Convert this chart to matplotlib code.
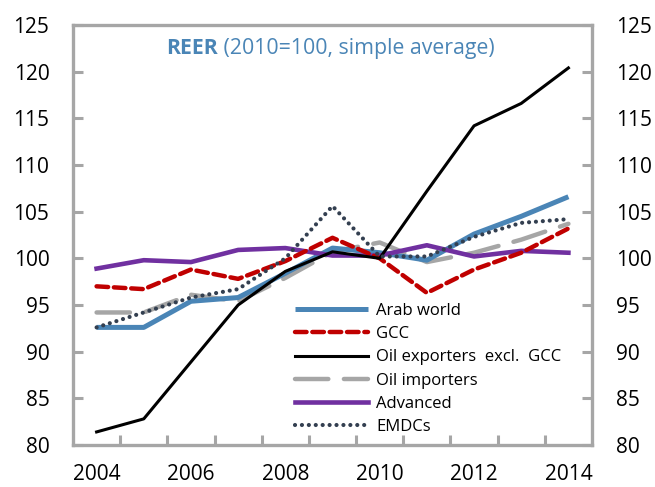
import matplotlib
matplotlib.use("Agg")
import matplotlib.pyplot as plt

years = [2004, 2005, 2006, 2007, 2008, 2009, 2010, 2011, 2012, 2013, 2014]
arab_world = [92.6, 92.6, 95.4, 95.8, 98.4, 101.1, 100.6, 99.8, 102.6, 104.5, 106.6]
gcc = [97.0, 96.7, 98.8, 97.8, 99.7, 102.2, 100.0, 96.3, 98.8, 100.6, 103.2]
oil_exp = [81.4, 82.8, 88.9, 95.0, 98.6, 100.7, 100.0, 107.2, 114.2, 116.6, 120.4]
oil_imp = [94.2, 94.2, 96.1, 95.4, 97.9, 100.7, 101.7, 99.6, 100.6, 102.0, 103.7]
advanced = [98.9, 99.8, 99.6, 100.9, 101.1, 100.3, 100.3, 101.4, 100.2, 100.8, 100.6]
emdcs = [92.6, 94.2, 95.8, 96.7, 100.0, 105.6, 100.2, 100.2, 102.3, 103.8, 104.2]

labels = ["Arab world", "GCC", "Oil exporters  excl.  GCC", "Oil importers", "Advanced", "EMDCs"]
yticks = [80, 85, 90, 95, 100, 105, 110, 115, 120, 125]

plt.rcParams['font.family'] = ['Open Sans', 'DejaVu Sans']

fig = plt.figure(figsize=(6.55, 4.87), dpi=100)
ax = fig.add_axes([73/655, 1-445/487, (592-73)/655, (445-25)/487])

x = list(range(len(years)))
ax.plot(x, arab_world, color="#4A85B6", lw=3.6, solid_capstyle='butt', label=labels[0], zorder=3)
ax.plot(x, gcc, color="#C00000", lw=3.2, dashes=(2.6, 1.3), dash_capstyle='round', label=labels[1], zorder=4)
ax.plot(x, oil_exp, color="black", lw=2.2, label=labels[2], zorder=5)
ax.plot(x, oil_imp, color="#A6A6A6", lw=3.2, dashes=(7.5, 3.5), dash_capstyle='round', label=labels[3], zorder=2)
ax.plot(x, advanced, color="#7030A0", lw=3.3, label=labels[4], zorder=3)
ax.plot(x, emdcs, color="#333F50", lw=3.0, dashes=(0.01, 1.65), dash_capstyle='round', label=labels[5], zorder=6)

ax.set_xlim(-0.5, len(years) - 0.5)
ax.set_ylim(80, 125)

# category boundaries as ticks
ax.set_xticks([i + 0.5 for i in range(len(years) - 1)])
ax.set_xticklabels([])
ax.set_xticks([i for i in range(0, len(years), 2)], minor=True)
ax.set_xticklabels([str(years[i]) for i in range(0, len(years), 2)], minor=True, fontsize=15)
ax.tick_params(axis='x', which='major', direction='in', length=7, width=2.2, color="#A6A6A6")
ax.tick_params(axis='x', which='minor', length=0, pad=14)

ax.set_yticks(yticks)
ax.set_yticklabels([str(v) for v in yticks], fontsize=15)
ax.tick_params(axis='y', direction='in', length=7, width=2.2, color="#A6A6A6",
               left=True, right=True, labelleft=True, labelright=True, pad=17)

for s in ax.spines.values():
    s.set_color("#A6A6A6")
    s.set_linewidth(2.4)

t1 = ax.annotate("REER", xy=(0.179, 0.945), xycoords='axes fraction', fontsize=15.3,
                 fontweight='bold', color="#4A85B6", va='center', ha='left')
ax.annotate(" (2010=100, simple average)", xy=(1, 0.5), xycoords=t1, fontsize=15.3,
            color="#4A85B6", va='center', ha='left')

leg = ax.legend(loc='upper left', bbox_to_anchor=(0.428, 0.338), frameon=False,
                fontsize=12, handlelength=4.4, handletextpad=0.45, labelspacing=0.43,
                borderaxespad=0, borderpad=0)

fig.savefig("out.png", dpi=100)
